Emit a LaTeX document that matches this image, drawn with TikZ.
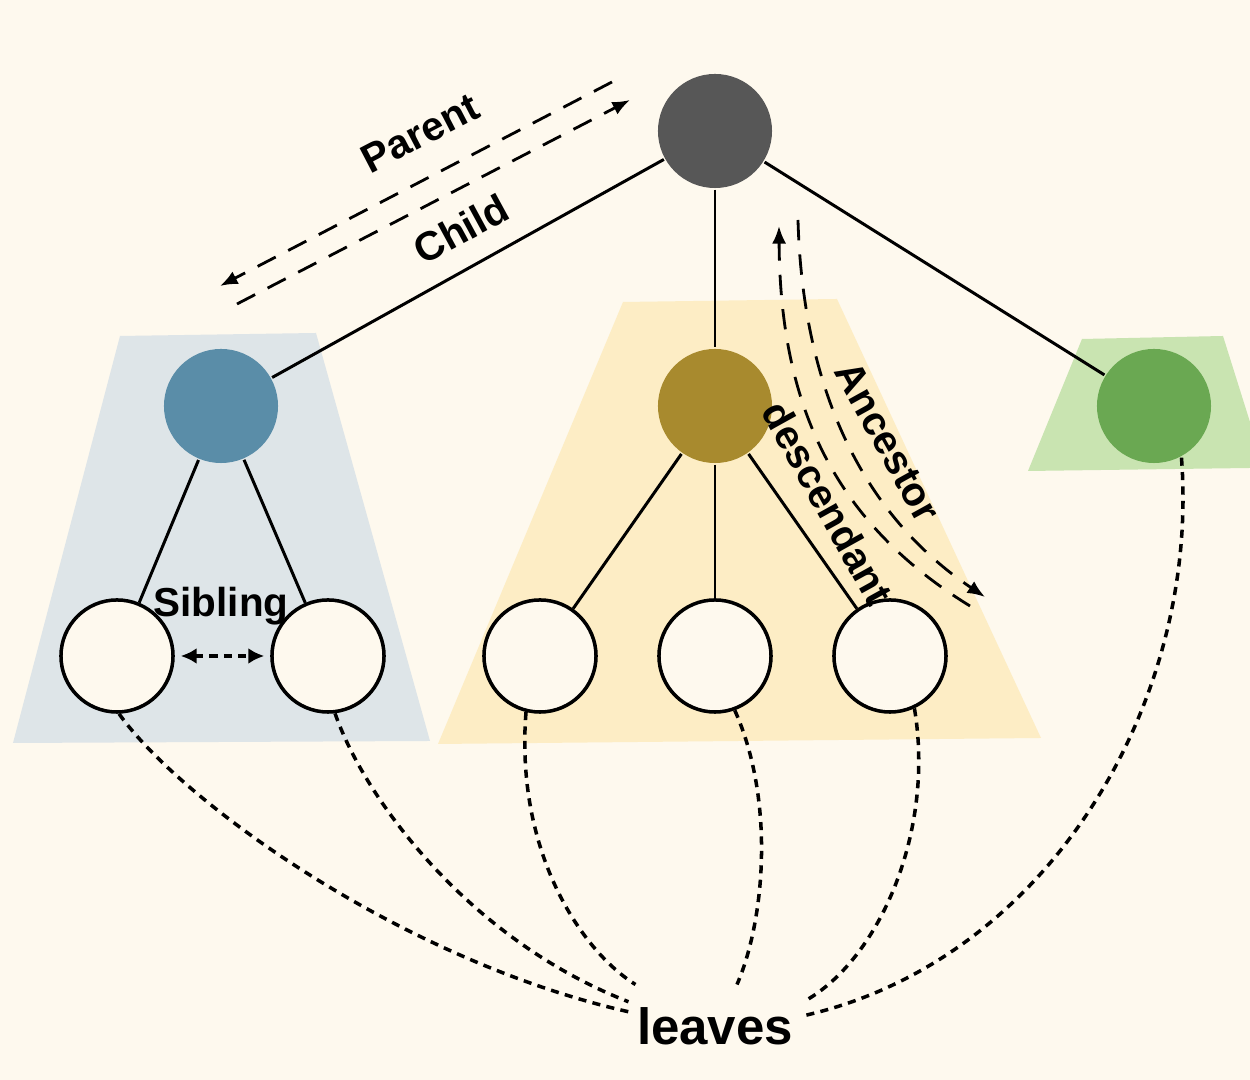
\documentclass[tikz,border=0pt]{standalone}
\usepackage{fontspec}
\setmainfont{Liberation Sans}
\usetikzlibrary{arrows.meta,calc}

\definecolor{paper}{HTML}{FEF9EE}
\definecolor{bluegrp}{HTML}{DEE5E8}
\definecolor{goldgrp}{HTML}{FDEDC5}
\definecolor{greengrp}{HTML}{C9E4B1}
\definecolor{rootfill}{HTML}{575757}
\definecolor{bluefill}{HTML}{5A8DA8}
\definecolor{goldfill}{HTML}{A88A2E}
\definecolor{greenfill}{HTML}{6AA852}

\begin{document}
\begin{tikzpicture}[x=0.01cm,y=-0.01cm,line width=0.85pt]
  \tikzstyle{vertex}=[circle,minimum size=1.14cm,inner sep=0pt]
  \tikzstyle{leaf}=[vertex,minimum size=1.12cm,draw=black,line width=1pt,fill=paper]
  \tikzstyle{tag}=[font=\fontsize{11.5}{13}\selectfont\bfseries,inner sep=0pt]
  \tikzstyle{hop}=[dash pattern=on 5.8pt off 4pt,line width=0.8pt,-{Latex[length=5pt,width=4pt]}]
  \tikzstyle{dots}=[dash pattern=on 2.3pt off 1.8pt,line width=1pt]

  % background and the three groups
  \fill[paper] (0,0) rectangle (1250,1080);
  \fill[bluegrp] (120,336) -- (316,333) -- (430,741) -- (13,743) -- cycle;
  \fill[goldgrp] (623,302) -- (837,299) -- (1041,738) -- (438,744) -- cycle;
  \fill[greengrp] (1082,339) -- (1223,336) -- (1250,422) -- (1250,468) -- (1028,471) -- cycle;

  \path
    (715,131) node[vertex,fill=rootfill] (r) {}
    (221,406) node[vertex,fill=bluefill] (b) {}
    (715,406) node[vertex,fill=goldfill] (g) {}
    (1154,406) node[vertex,fill=greenfill] (e) {}
    (117,656) node[leaf] (l1) {}
    (328,656) node[leaf] (l2) {}
    (540,656) node[leaf] (l3) {}
    (715,656) node[leaf] (l4) {}
    (890,656) node[leaf] (l5) {};

  \foreach \f/\t in {r/b,r/g,r/e,b/l1,b/l2,g/l3,g/l4,g/l5}
    \path[draw]
      (\f) edge (\t);

  % parent / child
  \coordinate (pc1) at (612,82);
  \coordinate (pc2) at (220,286);
  \coordinate (pc3) at (237,304);
  \coordinate (pc4) at (630,100);
  \draw[hop] (pc1) -- (pc2);
  \draw[hop] (pc3) -- (pc4);
  \node[tag,rotate=27.5] at (420,133) {Parent};
  \node[tag,rotate=28.5] at (461,229) {Child};

  % ancestor / descendant
  \coordinate (ad1) at (970,606);
  \coordinate (ad2) at (779,226);
  \coordinate (ad3) at (798,220);
  \coordinate (ad4) at (985,597);
  \draw[hop] (ad1) .. controls (830,520) and (780,400) .. (ad2);
  \draw[hop] (ad3) .. controls (803,400) and (870,520) .. (ad4);
  \node[tag,rotate=-61] at (888,442) {Ancestor};
  \node[tag,rotate=-61] at (828,503) {descendant};

  % sibling
  \draw[dots,{Latex[length=4.5pt,width=4.5pt]}-{Latex[length=4.5pt,width=4.5pt]},
    shorten <=1.7pt,shorten >=1.7pt] (l1) -- (l2);
  \node[tag,anchor=base] at (221,617) {Sibling};

  % leaves
  \node[font=\fontsize{14.5}{16}\selectfont\bfseries,inner sep=2pt,anchor=base] (lv) at (715,1045) {leaves};
  \draw[dots] (l1.-88) .. controls (180,800) and (400,960) .. ($(lv.west)+(0,-15)$);
  \draw[dots] (l2.-83) .. controls (365,800) and (470,940) .. ($(lv.west)+(0,-25)$);
  \draw[dots] (l3.-104) .. controls (515,850) and (580,950) .. ($(lv.north west)+(7,-15)$);
  \draw[dots] (l4.-70) .. controls (775,800) and (765,920) .. ($(lv.north)+(22,-15)$);
  \draw[dots] (l5.-65) .. controls (935,830) and (880,960) .. ($(lv.east)+(2,-25)$);
  \draw[dots] (e.-62) .. controls (1200,700) and (1050,960) .. ($(lv.east)+(2,-11)$);
\end{tikzpicture}
\end{document}
